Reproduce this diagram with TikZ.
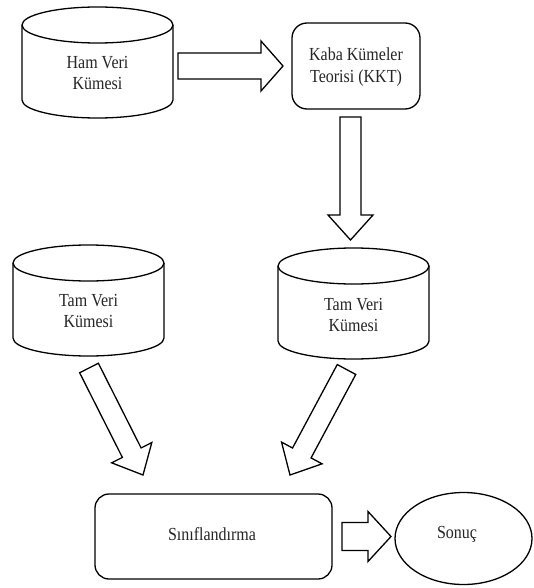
\documentclass[tikz,border=0pt]{standalone}
\usepackage{fontspec}
\setmainfont{Liberation Serif}
\usetikzlibrary{calc,shapes.geometric}
\tikzset{
  outline/.style={draw=black, line width=1.3pt},
  arrowbody/.style={draw=black, line width=1.3pt, fill=white, line join=miter},
  txt/.style={align=center, font=\fontsize{16pt}{19pt}\selectfont, inner sep=0pt,
              text=black!85},
  tall/.style={yscale=1.15, transform shape},
}
% cylinder: name, x-left, x-right, y-top, y-bottom, text center y, text
\newcommand\dbcyl[7]{%
  \draw[outline] ({(#2+#3)/2},{-(#4+18)}) ellipse [x radius={(#3-#2)/2}, y radius=18];
  \draw[outline] (#2,{-(#4+18)}) -- (#2,{-(#5-18)})
     arc[start angle=180, end angle=360, x radius={(#3-#2)/2}, y radius=18]
     -- (#3,{-(#4+18)});
  \node[txt, tall] (#1) at ({(#2+#3)/2},-#6) {#7};
}
% block arrow: tail, tip, shaft half-width, head half-width, head length
\newcommand\blockarrow[5]{%
  \path ($(#2)!#5!(#1)$) coordinate (bah);
  \draw[arrowbody] ($(#1)!#3!90:(#2)$) -- ($(bah)!#3!90:(#2)$) -- ($(bah)!#4!90:(#2)$)
     -- (#2) -- ($(bah)!#4!-90:(#2)$) -- ($(bah)!#3!-90:(#2)$) -- ($(#1)!#3!-90:(#2)$) -- cycle;
}
\begin{document}
\begin{tikzpicture}[x=1pt, y=1pt]
\useasboundingbox[fill=white] (0,0) rectangle (533,-588);

% cylinders
\dbcyl{ham}{22}{173}{7}{118}{73}{Ham Veri\\Kümesi}
\dbcyl{tam1}{13}{164}{245}{356}{311}{Tam Veri\\Kümesi}
\dbcyl{tam2}{278}{429}{248}{359}{315}{Tam Veri\\Kümesi}

% process boxes
\node[outline, rounded corners=15pt, minimum width=128pt, minimum height=86pt]
  (kkt) at (356,-66) {};
\node[txt, tall] (kkttext) at (356,-67) {Kaba Kümeler\\Teorisi (KKT)};
\node[outline, rounded corners=14pt, minimum width=237pt, minimum height=85pt]
  (sinif) at (213.5,-536.5) {};
\node[txt, tall] (siniftext) at (212,-534) {Sınıflandırma};
\node[outline, ellipse, minimum width=137pt, minimum height=92pt, inner sep=0pt]
  (sonuc) at (463.5,-538.5) {};
\node[txt, tall] (sonuctext) at (457,-534) {Sonuç};

% arrow end points
\coordinate (t1) at (178,-66);     \coordinate (h1) at (283,-66);
\coordinate (t2) at (350.5,-117);  \coordinate (h2) at (350.5,-240);
\coordinate (t3) at (89,-368);     \coordinate (h3) at (143,-475);
\coordinate (t4) at (346.5,-369.5);\coordinate (h4) at (290,-475);
\coordinate (t5) at (342,-536.5);  \coordinate (h5) at (391,-536.5);

\blockarrow{t1}{h1}{13pt}{25pt}{22pt}
\blockarrow{t2}{h2}{10.5pt}{22.5pt}{25pt}
\blockarrow{t3}{h3}{10.5pt}{22.5pt}{25pt}
\blockarrow{t4}{h4}{10.5pt}{23pt}{25pt}
\blockarrow{t5}{h5}{14pt}{25pt}{23pt}
\end{tikzpicture}
\end{document}
